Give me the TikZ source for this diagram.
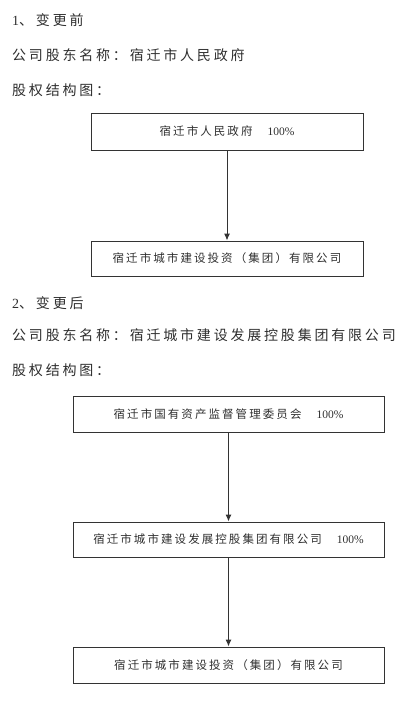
\documentclass[tikz,border=0pt]{standalone}
\usepackage{fontspec}
\usetikzlibrary{arrows.meta}
\newfontfamily\cjkhead[LetterSpace=20]{Noto Sans CJK SC}
\newfontfamily\cjkbox[LetterSpace=18]{Noto Sans CJK SC}
\newfontfamily\latn{Liberation Serif}
\newcommand{\pct}{{\latn\fontsize{11.5}{13}\selectfont 100\%}}
\definecolor{txt}{HTML}{2E2E2E}
\definecolor{ln}{HTML}{333333}
\begin{document}
\begin{tikzpicture}[x=1pt,y=-1pt,
  head/.style={anchor=west,inner sep=0pt,text=txt,font=\cjkhead\fontsize{14}{16}\selectfont},
  box/.style={draw=ln,line width=1pt,rectangle,inner sep=0pt,text=txt,font=\cjkbox\fontsize{11.5}{13}\selectfont},
  arr/.style={draw=ln,line width=1pt,-{Latex[length=7pt,width=6pt]}}]
\useasboundingbox (0,0) rectangle (416,704);
\node[head] (h1) at (12,20) {{\latn 1}、变更前};
\node[head] (h2) at (12,55) {公司股东名称：宿迁市人民政府};
\node[head] (h3) at (12,90) {股权结构图：};
\node[box,minimum width=272pt,minimum height=37pt] (b1) at (227,131.5) {宿迁市人民政府\hspace{15pt}\pct};
\node[box,minimum width=272pt,minimum height=35pt] (b2) at (227,258.5) {宿迁市城市建设投资（集团）有限公司};
\draw[arr] (b1.south) -- (b2.north);
\node[head] (h4) at (12,303) {{\latn 2}、变更后};
\node[head] (h5) at (12,335) {公司股东名称：宿迁城市建设发展控股集团有限公司};
\node[head] (h6) at (12,370) {股权结构图：};
\node[box,minimum width=311pt,minimum height=36pt] (b3) at (228.5,414) {宿迁市国有资产监督管理委员会\hspace{15pt}\pct};
\node[box,minimum width=311pt,minimum height=35pt] (b4) at (228.5,539.5) {宿迁市城市建设发展控股集团有限公司\hspace{15pt}\pct};
\node[box,minimum width=311pt,minimum height=36pt] (b5) at (228.5,665) {宿迁市城市建设投资（集团）有限公司};
\draw[arr] (b3.south) -- (b4.north);
\draw[arr] (b4.south) -- (b5.north);
\end{tikzpicture}
\end{document}
